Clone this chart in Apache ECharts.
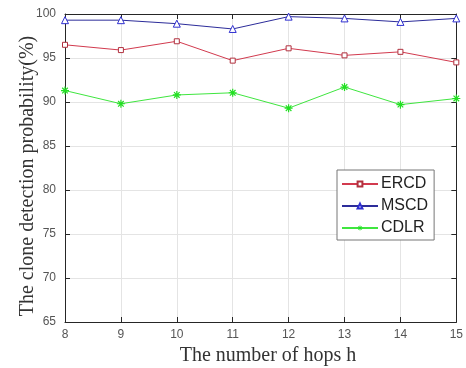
<!DOCTYPE html>
<html>
<head>
<meta charset="utf-8">
<script src="https://cdn.jsdelivr.net/npm/echarts@6/dist/echarts.min.js"></script>
<style>
html,body{margin:0;padding:0;background:#fff;}
#chart{width:466px;height:368px;}
</style>
</head>
<body>
<div id="chart"></div>
<script>
// Hop counts on the x axis
const hops = [8, 9, 10, 11, 12, 13, 14, 15];
// Clone detection probability (%) per scheme
const ercd = [96.5, 95.9, 96.9, 94.7, 96.1, 95.3, 95.7, 94.5];
const mscd = [99.3, 99.3, 98.9, 98.3, 99.7, 99.5, 99.1, 99.5];
const cdlr = [91.3, 89.8, 90.8, 91.05, 89.3, 91.7, 89.7, 90.4];

const xTitle = 'The number of hops h';
const yTitle = 'The clone detection probability(%)';

const asterisk = 'path://M-1,-0.15L1,-0.15L1,0.15L-1,0.15Z' +
  'M-0.15,-1L0.15,-1L0.15,1L-0.15,1Z' +
  'M-0.594,-0.806L0.806,0.594L0.594,0.806L-0.806,-0.594Z' +
  'M0.594,-0.806L0.806,-0.594L-0.594,0.806L-0.806,0.594Z';

const pair = arr => hops.map((h, i) => [h, arr[i]]);

const axisLineStyle = { color: '#262626', width: 1 };
const gridLine = { show: true, lineStyle: { color: '#e4e4e4', width: 1 } };
const labelStyle = { color: '#555', fontSize: 12, fontFamily: 'Liberation Sans, Arial, sans-serif' };
const titleFont = '20px "Liberation Serif", "Times New Roman", serif';

const chart = echarts.init(document.getElementById('chart'));
chart.setOption({
  animation: false,
  backgroundColor: '#fff',
  grid: { left: 65, right: 9, top: 14, bottom: 46, containLabel: false },
  graphic: [{
    type: 'text', x: 268, y: 356,
    style: { text: xTitle, font: titleFont, fill: '#333', align: 'center', verticalAlign: 'middle' }
  }, {
    type: 'text', x: 28, y: 176, rotation: Math.PI / 2,
    style: { text: yTitle, font: titleFont, fill: '#333', align: 'center', verticalAlign: 'middle' }
  }],
  xAxis: [{
    type: 'value', min: 8, max: 15, interval: 1,
    axisLine: { show: true, lineStyle: axisLineStyle },
    axisTick: { show: true, inside: true, length: 5, lineStyle: axisLineStyle },
    axisLabel: Object.assign({ margin: 7 }, labelStyle),
    splitLine: gridLine
  }, {
    type: 'value', min: 8, max: 15, interval: 1, position: 'top',
    axisLine: { show: true, lineStyle: axisLineStyle },
    axisTick: { show: true, inside: true, length: 5, lineStyle: axisLineStyle },
    axisLabel: { show: false }, splitLine: { show: false }
  }],
  yAxis: [{
    type: 'value', min: 65, max: 100, interval: 5,
    axisLine: { show: true, lineStyle: axisLineStyle },
    axisTick: { show: true, inside: true, length: 5, lineStyle: axisLineStyle },
    axisLabel: Object.assign({ margin: 9 }, labelStyle),
    splitLine: gridLine
  }, {
    type: 'value', min: 65, max: 100, interval: 5, position: 'right',
    axisLine: { show: true, lineStyle: axisLineStyle },
    axisTick: { show: true, inside: true, length: 5, lineStyle: axisLineStyle },
    axisLabel: { show: false }, splitLine: { show: false }
  }],
  legend: {
    orient: 'vertical', left: 337, top: 170,
    padding: [6, 6, 4, 4], itemGap: 6, itemWidth: 36, itemHeight: 6,
    backgroundColor: '#fff', borderColor: '#777', borderWidth: 1,
    textStyle: { color: '#222', fontSize: 16, fontFamily: 'Liberation Sans, Arial, sans-serif', padding: [0, 0, 0, -2] },
    data: ['ERCD', 'MSCD', 'CDLR']
  },
  series: [{
    name: 'ERCD', type: 'line', data: pair(ercd),
    symbol: 'rect', symbolSize: 5, showAllSymbol: true,
    lineStyle: { color: '#d23a4e', width: 1 },
    itemStyle: { color: '#fff', borderColor: '#b0303e', borderWidth: 1 }
  }, {
    name: 'MSCD', type: 'line', data: pair(mscd),
    symbol: 'triangle', symbolSize: 7, showAllSymbol: true,
    lineStyle: { color: '#2c2c9a', width: 1 },
    itemStyle: { color: '#fff', borderColor: '#2f2fd0', borderWidth: 1 }
  }, {
    name: 'CDLR', type: 'line', data: pair(cdlr),
    symbol: asterisk, symbolSize: 8, showAllSymbol: true,
    lineStyle: { color: '#3fe63f', width: 1 },
    itemStyle: { color: '#22e022' }
  }]
});
</script>
</body>
</html>
